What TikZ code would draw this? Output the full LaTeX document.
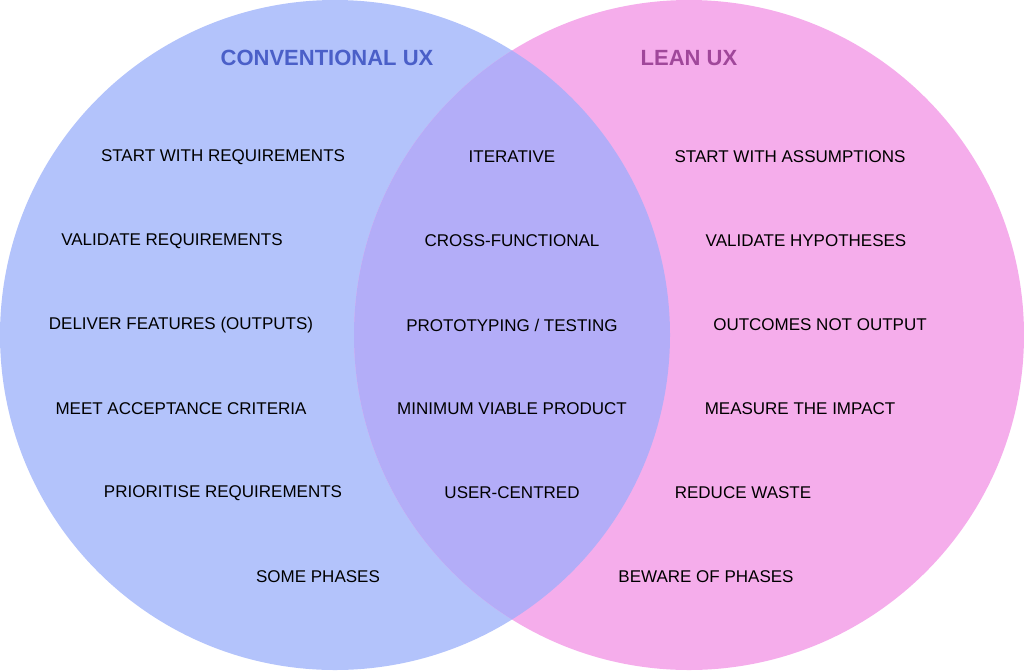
\documentclass[tikz,border=0pt]{standalone}
\usepackage{fontspec}
\setmainfont{Liberation Sans}
\definecolor{lblue}{HTML}{B3C3FB}
\definecolor{lpink}{HTML}{F5ADEB}
\definecolor{lmix}{HTML}{B3ADF8}
\definecolor{tblue}{HTML}{4A5FC8}
\definecolor{tpurp}{HTML}{A0479A}
\begin{document}
\begin{tikzpicture}[x=1pt,y=-1pt,
  item/.style={font=\fontsize{17}{20}\selectfont,text=black,inner sep=0pt},
  title/.style={font=\fontsize{22}{26}\selectfont\bfseries,inner sep=0pt}]
\useasboundingbox (0,0) rectangle (1024,670);
\fill[lblue] (335,335) circle[radius=335];
\fill[lpink] (689,335) circle[radius=335];
\begin{scope}
\clip (335,335) circle[radius=335];
\fill[lmix] (689,335) circle[radius=335];
\end{scope}
\node[title,text=tblue] (t1) at (327,58) {CONVENTIONAL UX};
\node[title,text=tpurp] (t2) at (689,58) {LEAN UX};
\node[item] (a1) at (223,157) {START WITH REQUIREMENTS};
\node[item] (a2) at (172,241) {VALIDATE REQUIREMENTS};
\node[item] (a3) at (181,325) {DELIVER FEATURES (OUTPUTS)};
\node[item] (a4) at (181,409) {MEET ACCEPTANCE CRITERIA};
\node[item] (a5) at (223,493) {PRIORITISE REQUIREMENTS};
\node[item] (a6) at (318,577) {SOME PHASES};
\node[item] (b1) at (512,157) {ITERATIVE};
\node[item] (b2) at (512,241) {CROSS-FUNCTIONAL};
\node[item] (b3) at (512,325) {PROTOTYPING / TESTING};
\node[item] (b4) at (512,409) {MINIMUM VIABLE PRODUCT};
\node[item] (b5) at (512,493) {USER-CENTRED};
\node[item] (c1) at (790,157) {START WITH ASSUMPTIONS};
\node[item] (c2) at (806,241) {VALIDATE HYPOTHESES};
\node[item] (c3) at (820,325) {OUTCOMES NOT OUTPUT};
\node[item] (c4) at (800,409) {MEASURE THE IMPACT};
\node[item] (c5) at (743,493) {REDUCE WASTE};
\node[item] (c6) at (706,577) {BEWARE OF PHASES};
\end{tikzpicture}
\end{document}
